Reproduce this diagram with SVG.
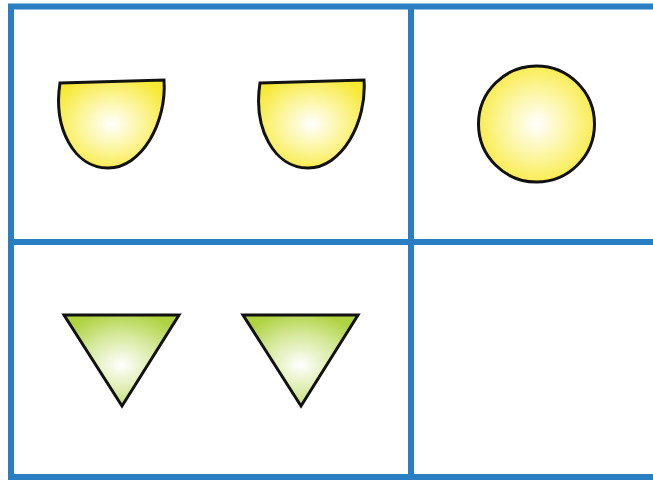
<svg xmlns="http://www.w3.org/2000/svg" width="653" height="480" viewBox="0 0 653 480">
<defs>
<radialGradient id="yel" cx="0.5" cy="0.5" r="0.6">
<stop offset="0" stop-color="#ffffff"/>
<stop offset="0.5" stop-color="#fcf59a"/>
<stop offset="1" stop-color="#f7e831"/>
</radialGradient>
<radialGradient id="grn" cx="0.5" cy="0.55" r="0.6">
<stop offset="0" stop-color="#ffffff"/>
<stop offset="0.55" stop-color="#d6e99c"/>
<stop offset="1" stop-color="#aed240"/>
</radialGradient>
<style>
.grid{stroke:#2a7fc2;stroke-width:6;fill:none}
.shape{stroke:#111;stroke-width:3;stroke-linejoin:miter}
.y{fill:url(#yel)}
.g{fill:url(#grn)}
</style>
</defs>
<rect width="653" height="480" fill="#ffffff"/>
<g id="grid">
<line class="grid" x1="8" y1="6.5" x2="653" y2="6.5"/>
<line class="grid" x1="8" y1="242" x2="653" y2="242"/>
<line class="grid" x1="8" y1="477" x2="653" y2="477"/>
<line class="grid" x1="11" y1="4" x2="11" y2="480"/>
<line class="grid" x1="411" y1="4" x2="411" y2="480"/>
</g>
<g id="bowl1"><path class="shape y" d="M60,83 L164,80 C167,122 142,168 108,168 C74,168 53,128 60,83 Z"/></g>
<g id="bowl2"><path class="shape y" d="M260,83 L364,80 C367,122 342,168 308,168 C274,168 253,128 260,83 Z"/></g>
<g id="circle"><circle class="shape y" cx="536.5" cy="124" r="58"/></g>
<g id="tri1"><polygon class="shape g" points="64,315 179,315 122,406"/></g>
<g id="tri2"><polygon class="shape g" points="243,315 358,315 301,406"/></g>
<g id="connectors"></g>
</svg>
